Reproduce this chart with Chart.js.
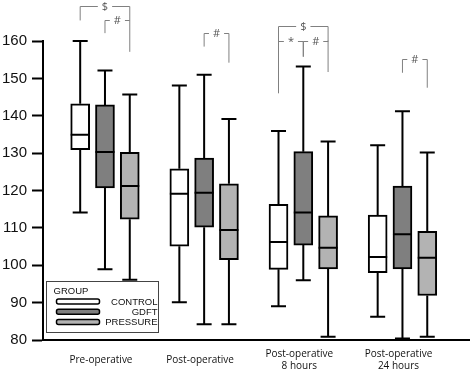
<!DOCTYPE html>
<html lang="en">
<head>
<meta charset="UTF-8">
<title>Box plot by group</title>
<script src="https://cdn.jsdelivr.net/npm/chart.js"></script>
<style>
	html, body { margin: 0; padding: 0; background: #fff; }
</style>
</head>
<body>
<canvas id="myChart" width="472" height="371"></canvas>
<script>
	// categories
	const timepoints = [['Pre-operative'], ['Post-operative'], ['Post-operative', '8 hours'], ['Post-operative', '24 hours']];
	const groups = ['CONTROL', 'GDFT', 'PRESSURE'];

	// box plot values, one per timepoint
	const controlMin = [114.1, 90.1, 89.0, 86.2];
	const controlQ1 = [130.9, 105.1, 98.9, 98.0];
	const controlMedian = [134.9, 119.1, 106.2, 102.2];
	const controlQ3 = [143.2, 125.8, 116.3, 113.4];
	const controlMax = [160.0, 148.1, 135.9, 132.1];

	const gdftMin = [98.9, 84.2, 96.0, 80.4];
	const gdftQ1 = [120.7, 110.2, 105.4, 99.0];
	const gdftMedian = [130.3, 119.4, 114.1, 108.3];
	const gdftQ3 = [142.9, 128.7, 130.4, 121.2];
	const gdftMax = [152.1, 151.0, 153.2, 141.2];

	const pressureMin = [96.1, 84.2, 80.9, 80.9];
	const pressureQ1 = [112.3, 101.5, 99.0, 91.9];
	const pressureMedian = [121.2, 109.4, 104.7, 102.0];
	const pressureQ3 = [130.2, 121.8, 113.2, 109.1];
	const pressureMax = [145.7, 139.1, 133.1, 130.2];

	// y tick labels
	const yTicks = [80, 90, 100, 110, 120, 130, 140, 150, 160];

	// significance marks: timepoint, from box, to box, label, levels in axis units
	const brackets = [
		{ t: 0, from: 0, to: 2, label: '$', top: 169.4, legA: 165.5, legB: 157.1 },
		{ t: 0, from: 1, to: 2, label: '#', top: 165.5, legA: 162.1, legB: 165.5 },
		{ t: 1, from: 1, to: 2, label: '#', top: 162.2, legA: 158.5, legB: 154.2 },
		{ t: 2, from: 0, to: 2, label: '$', top: 164.1, legA: 146.0, legB: 151.7 },
		{ t: 2, from: 0, to: 1, label: '*', top: 160.1, legA: 160.1, legB: 155.8 },
		{ t: 2, from: 1, to: 2, label: '#', top: 160.1, legA: 155.8, legB: 160.1 },
		{ t: 3, from: 1, to: 2, label: '#', top: 155.2, legA: 151.5, legB: 147.5 }
	];

	const stats = [
		{ min: controlMin, q1: controlQ1, med: controlMedian, q3: controlQ3, max: controlMax },
		{ min: gdftMin, q1: gdftQ1, med: gdftMedian, q3: gdftQ3, max: gdftMax },
		{ min: pressureMin, q1: pressureQ1, med: pressureMedian, q3: pressureQ3, max: pressureMax }
	];
	const boxColors = ['#ffffff', '#7f7f7f', '#b3b3b3'];
	const boxShift = [-0.25, 0, 0.25];

	Chart.defaults.font.family = '"Liberation Sans", Arial, sans-serif';
	Chart.defaults.color = '#111';

	// whiskers and medians on top of the floating bars
	const whiskers = {
		id: 'whiskers',
		afterDatasetsDraw(chart) {
			const ctx = chart.ctx;
			const y = chart.scales.y;
			ctx.save();
			ctx.strokeStyle = '#000';
			ctx.lineWidth = 2;
			chart.data.datasets.forEach((ds, k) => {
				const s = stats[k];
				chart.getDatasetMeta(k).data.forEach((bar, i) => {
					const cx = bar.x, half = bar.width / 2, cap = 7.5;
					ctx.beginPath();
					ctx.moveTo(cx, y.getPixelForValue(s.q3[i]));
					ctx.lineTo(cx, y.getPixelForValue(s.max[i]));
					ctx.moveTo(cx - cap, y.getPixelForValue(s.max[i]));
					ctx.lineTo(cx + cap, y.getPixelForValue(s.max[i]));
					ctx.moveTo(cx, y.getPixelForValue(s.q1[i]));
					ctx.lineTo(cx, y.getPixelForValue(s.min[i]));
					ctx.moveTo(cx - cap, y.getPixelForValue(s.min[i]));
					ctx.lineTo(cx + cap, y.getPixelForValue(s.min[i]));
					ctx.moveTo(cx - half, y.getPixelForValue(s.med[i]));
					ctx.lineTo(cx + half, y.getPixelForValue(s.med[i]));
					ctx.stroke();
				});
			});
			ctx.restore();
		}
	};

	// brackets and the boxed legend
	const extras = {
		id: 'extras',
		afterDraw(chart) {
			const ctx = chart.ctx;
			const x = chart.scales.x, y = chart.scales.y;
			ctx.save();
			ctx.strokeStyle = '#808080';
			ctx.fillStyle = '#555';
			ctx.lineWidth = 1;
			ctx.font = '11px "Open Sans"';
			ctx.textAlign = 'center';
			ctx.textBaseline = 'middle';
			brackets.forEach(b => {
				const xa = x.getPixelForValue(b.t + 1 + boxShift[b.from]);
				const xb = x.getPixelForValue(b.t + 1 + boxShift[b.to]);
				const yt = Math.round(y.getPixelForValue(b.top)) + 0.5;
				const mid = (xa + xb) / 2;
				const gap = ctx.measureText(b.label).width / 2 + 4;
				ctx.beginPath();
				ctx.moveTo(xa, y.getPixelForValue(b.legA));
				ctx.lineTo(xa, yt);
				ctx.lineTo(mid - gap, yt);
				ctx.moveTo(mid + gap, yt);
				ctx.lineTo(xb, yt);
				ctx.lineTo(xb, y.getPixelForValue(b.legB));
				ctx.stroke();
				ctx.fillText(b.label, mid, yt);
			});

			// legend
			const area = chart.chartArea;
			const lx = area.left + 3.5, ly = area.bottom - 58.5, lw = 112, lh = 51;
			ctx.strokeStyle = '#444';
			ctx.lineWidth = 1;
			ctx.fillStyle = '#fff';
			ctx.fillRect(lx, ly, lw, lh);
			ctx.strokeRect(lx, ly, lw, lh);
			ctx.fillStyle = '#111';
			ctx.font = '9.5px "Liberation Sans"';
			ctx.textAlign = 'left';
			ctx.fillText('GROUP', lx + 7, ly + 10);
			groups.forEach((g, k) => {
				const ry = ly + 20 + k * 10.3;
				ctx.beginPath();
				ctx.roundRect(lx + 10, ry - 2.5, 43, 5, 2);
				ctx.fillStyle = boxColors[k];
				ctx.fill();
				ctx.strokeStyle = '#000';
				ctx.lineWidth = 1.5;
				ctx.stroke();
				ctx.fillStyle = '#111';
				ctx.textAlign = 'right';
				ctx.fillText(g, lx + lw - 1, ry + 0.5);
			});
			ctx.restore();
		}
	};

	const ctx = document.getElementById('myChart');
	new Chart(ctx, {
		type: 'bar',
		data: {
			datasets: groups.map((g, k) => ({
				label: g,
				data: timepoints.map((_, i) => ({ x: i + 1 + boxShift[k], y: [stats[k].q1[i], stats[k].q3[i]] })),
				backgroundColor: boxColors[k],
				borderColor: '#000',
				borderWidth: 2,
				borderSkipped: false,
				grouped: false,
				categoryPercentage: 1,
				barPercentage: 1,
				maxBarThickness: 19
			}))
		},
		options: {
			responsive: false,
			animation: false,
			layout: { padding: { top: 41, right: 3, left: 0, bottom: 0 } },
			plugins: { legend: { display: false }, tooltip: { enabled: false } },
			scales: {
				x: {
					type: 'linear',
					min: 0.375,
					max: 4.671,
					offset: false,
					grid: { display: false, drawTicks: false },
					border: { display: true, color: '#000', width: 2 },
					afterBuildTicks: scale => { scale.ticks = timepoints.map((_, i) => ({ value: i + 1 })); },
					afterFit: scale => { scale.height = 31; },
					ticks: {
						callback: v => timepoints[v - 1],
						autoSkip: false,
						maxRotation: 0,
						padding: 14,
						labelOffset: -4,
						crossAlign: 'center',
						color: '#111',
						font: { family: '"Open Sans"', size: 10, lineHeight: '12px' }
					}
				},
				y: {
					min: 80,
					max: 160,
					afterFit: scale => { scale.width = 43; },
					grid: {
						drawOnChartArea: false,
						tickLength: 11,
						tickWidth: 2,
						tickColor: '#000',
						tickBorderDash: c => (yTicks.includes(c.tick.value) ? [] : [0, 6, 20, 1])
					},
					border: { display: true, color: '#000', width: 2 },
					ticks: {
						stepSize: 5,
						padding: 5,
						color: '#111',
						font: { size: 15 },
						callback: v => (yTicks.includes(v) ? v : '')
					}
				}
			}
		},
		plugins: [whiskers, extras]
	});
</script>
</body>
</html>
